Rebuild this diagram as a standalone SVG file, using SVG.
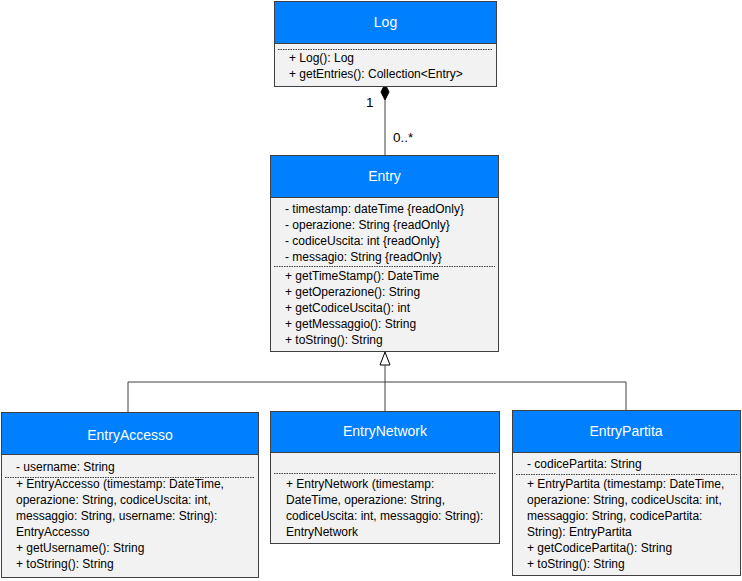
<svg xmlns="http://www.w3.org/2000/svg" width="742" height="581" viewBox="0 0 742 581">
<style>
.box{fill:#F2F2F2;stroke:#404040;stroke-width:1}
.hdr{fill:#0080FF;stroke:#404040;stroke-width:1}
.sep{stroke:#404040;stroke-width:1;stroke-dasharray:1.5 1;fill:none}
.title{font-family:"Liberation Sans",Arial,sans-serif;font-size:14px;fill:#FFFFFF;text-anchor:middle}
.t{font-family:"Liberation Sans",Arial,sans-serif;font-size:12px;fill:#000000}
.conn{stroke:#404040;stroke-width:1;fill:none}
.lbl{font-family:"Liberation Sans",Arial,sans-serif;font-size:13.5px;fill:#000000}
</style>
<rect width="742" height="581" fill="#FFFFFF"/>
<g id="connectors">
<line class="conn" x1="385" y1="100" x2="385" y2="155"/>
<polygon points="385,84 389,92 385,100 381,92" fill="#000000" stroke="#000000" stroke-width="1"/>
<text class="lbl" x="366" y="107">1</text>
<text class="lbl" x="393" y="142">0..*</text>
<polygon points="385,352 390,365 380,365" fill="#FFFFFF" stroke="#000000" stroke-width="1"/>
<line class="conn" x1="385" y1="365" x2="385" y2="382"/>
<polyline class="conn" points="128,412 128,382 626,382 626,410"/>
<line class="conn" x1="385" y1="382" x2="385" y2="411"/>
</g>
<g id="Log">
<rect class="box" x="274.5" y="1.5" width="222" height="85"/>
<rect class="hdr" x="274.5" y="1.5" width="222" height="42"/>
<text class="title" x="385.5" y="27">Log</text>
<line class="sep" x1="278" y1="49.5" x2="493" y2="49.5"/>
<text class="t" x="289" y="62">+ Log(): Log</text>
<text class="t" x="289" y="78">+ getEntries(): Collection&lt;Entry&gt;</text>
</g>
<g id="Entry">
<rect class="box" x="270.5" y="155.5" width="228" height="196"/>
<rect class="hdr" x="270.5" y="155.5" width="228" height="42"/>
<text class="title" x="384.5" y="181">Entry</text>
<text class="t" x="285" y="213">- timestamp: dateTime {readOnly}</text>
<text class="t" x="285" y="229">- operazione: String {readOnly}</text>
<text class="t" x="285" y="245">- codiceUscita: int {readOnly}</text>
<text class="t" x="285" y="261">- messagio: String {readOnly}</text>
<line class="sep" x1="274" y1="266.5" x2="495" y2="266.5"/>
<text class="t" x="285" y="280">+ getTimeStamp(): DateTime</text>
<text class="t" x="285" y="296">+ getOperazione(): String</text>
<text class="t" x="285" y="312">+ getCodiceUscita(): int</text>
<text class="t" x="285" y="328">+ getMessaggio(): String</text>
<text class="t" x="285" y="344">+ toString(): String</text>
</g>
<g id="EntryAccesso">
<rect class="box" x="1.5" y="412.5" width="257" height="165"/>
<rect class="hdr" x="1.5" y="412.5" width="257" height="42"/>
<text class="title" x="130" y="440">EntryAccesso</text>
<text class="t" x="16" y="471">- username: String</text>
<line class="sep" x1="5" y1="477.5" x2="255" y2="477.5"/>
<text class="t" x="16" y="488">+ EntryAccesso (timestamp: DateTime,</text>
<text class="t" x="16" y="504">operazione: String, codiceUscita: int,</text>
<text class="t" x="16" y="520">messaggio: String, username: String):</text>
<text class="t" x="16" y="536">EntryAccesso</text>
<text class="t" x="16" y="552">+ getUsername(): String</text>
<text class="t" x="16" y="568">+ toString(): String</text>
</g>
<g id="EntryNetwork">
<rect class="box" x="270.5" y="411.5" width="229" height="132"/>
<rect class="hdr" x="270.5" y="411.5" width="229" height="41"/>
<text class="title" x="385" y="436">EntryNetwork</text>
<line class="sep" x1="274" y1="473.5" x2="496" y2="473.5"/>
<text class="t" x="286" y="488">+ EntryNetwork (timestamp:</text>
<text class="t" x="286" y="504">DateTime, operazione: String,</text>
<text class="t" x="286" y="520">codiceUscita: int, messaggio: String):</text>
<text class="t" x="286" y="536">EntryNetwork</text>
</g>
<g id="EntryPartita">
<rect class="box" x="512.5" y="410.5" width="228" height="165"/>
<rect class="hdr" x="512.5" y="410.5" width="228" height="42"/>
<text class="title" x="626" y="436">EntryPartita</text>
<text class="t" x="527" y="468">- codicePartita: String</text>
<line class="sep" x1="516" y1="474.5" x2="737" y2="474.5"/>
<text class="t" x="527" y="488">+ EntryPartita (timestamp: DateTime,</text>
<text class="t" x="527" y="504">operazione: String, codiceUscita: int,</text>
<text class="t" x="527" y="520">messaggio: String, codicePartita:</text>
<text class="t" x="527" y="536">String): EntryPartita</text>
<text class="t" x="527" y="552">+ getCodicePartita(): String</text>
<text class="t" x="527" y="568">+ toString(): String</text>
</g>
</svg>
